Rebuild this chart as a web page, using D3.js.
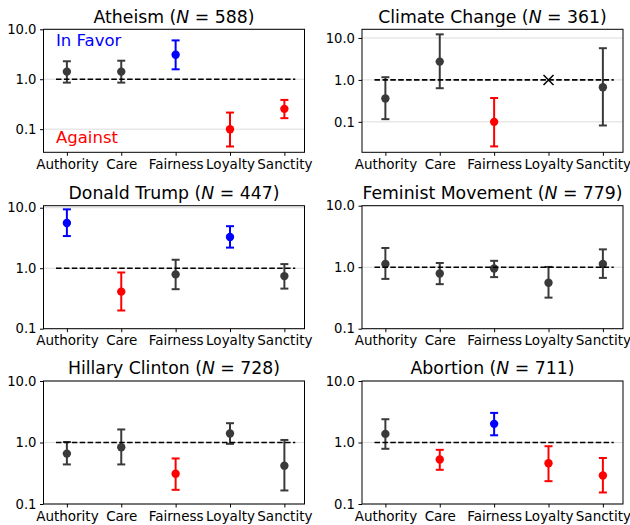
<!DOCTYPE html>
<html>
<head>
    <meta charset="utf-8">
    <script src="https://d3js.org/d3.v7.min.js"></script>
    <style>
        body { margin: 0; background: #fff; }
        text { font-family: "DejaVu Sans", sans-serif; }
    </style>
</head>
<body>
    <script>
        // foundations on the x axis
        var categories = ["Authority", "Care", "Fairness", "Loyalty", "Sanctity"];

        // one entry per panel
        var topics = ["Atheism", "Climate Change", "Donald Trump", "Feminist Movement", "Hillary Clinton", "Abortion"];
        var sampleSizes = [588, 361, 447, 779, 728, 711];

        // odds ratios with lower / upper interval ends (null = not estimable)
        var odds = [
            [1.42, 1.42, 3.1, 0.1, 0.255],
            [0.36, 2.73, 0.1, null, 0.67],
            [5.6, 0.41, 0.79, 3.29, 0.74],
            [1.13, 0.79, 0.95, 0.56, 1.13],
            [0.66, 0.84, 0.31, 1.4, 0.42],
            [1.38, 0.53, 2.01, 0.46, 0.29]
        ];
        var lowers = [
            [0.855, 0.855, 1.58, 0.045, 0.166],
            [0.116, 0.634, 0.026, null, 0.082],
            [3.4, 0.2, 0.45, 2.19, 0.46],
            [0.645, 0.53, 0.69, 0.32, 0.67],
            [0.44, 0.44, 0.17, 0.95, 0.166],
            [0.79, 0.36, 1.31, 0.235, 0.154]
        ];
        var uppers = [
            [2.29, 2.35, 6.0, 0.215, 0.385],
            [1.16, 12.2, 0.37, null, 5.7],
            [9.4, 0.85, 1.38, 4.95, 1.17],
            [2.05, 1.17, 1.27, 1.01, 1.95],
            [1.02, 1.63, 0.55, 2.06, 1.1],
            [2.39, 0.76, 3.03, 0.87, 0.56]
        ];
        // y axis limits of each panel
        var yLimits = [
            [0.0344, 10],
            [0.0188, 16.1],
            [0.1, 10.8],
            [0.1, 10],
            [0.1, 10],
            [0.1, 10]
        ];
        var yTicks = [0.1, 1, 10];

        var width = 630, height = 525;
        var colLeft = [43.5, 362];
        var rowTop = [29.3, 205.7, 381];
        var axW = 261, axH = 123;

        var svg = d3.select("body").append("svg")
            .attr("width", width)
            .attr("height", height);

        var x = d3.scaleLinear().domain([-0.43, 4.37]).range([0, axW]);

        topics.forEach(function(topic, i) {
            var g = svg.append("g")
                .attr("transform", "translate(" + colLeft[i % 2] + "," + rowTop[Math.floor(i / 2)] + ")");

            var y = d3.scaleLog().domain(yLimits[i]).range([axH, 0]);

            // grid
            g.selectAll(".grid")
                .data(yTicks)
                .enter().append("line")
                .attr("x1", 0).attr("x2", axW)
                .attr("y1", d => y(d)).attr("y2", d => y(d))
                .style("stroke", "#dcdcdc")
                .style("stroke-width", 1);

            // reference line at 1
            g.append("line")
                .attr("x1", x(-0.2)).attr("x2", x(4.2))
                .attr("y1", y(1)).attr("y2", y(1))
                .style("stroke", "#000")
                .style("stroke-width", 1.6)
                .style("stroke-dasharray", "5.5,2.4");

            var rows = categories.map(function(c, j) {
                var o = odds[i][j], lo = lowers[i][j], hi = uppers[i][j];
                var col = "#000", op = 0.77;
                if (o !== null && lo > 1) { col = "#0000ff"; op = 1; }
                if (o !== null && hi < 1) { col = "#ff0000"; op = 1; }
                return {j: j, o: o, lo: lo, hi: hi, col: col, op: op};
            });

            var est = rows.filter(d => d.o !== null);
            var bars = g.selectAll(".bar")
                .data(est)
                .enter().append("g")
                .style("opacity", d => d.op);

            bars.append("line")
                .attr("x1", d => x(d.j)).attr("x2", d => x(d.j))
                .attr("y1", d => y(d.lo)).attr("y2", d => y(d.hi))
                .style("stroke", d => d.col)
                .style("stroke-width", 2);
            bars.append("line")
                .attr("x1", d => x(d.j) - 4).attr("x2", d => x(d.j) + 4)
                .attr("y1", d => y(d.lo)).attr("y2", d => y(d.lo))
                .style("stroke", d => d.col)
                .style("stroke-width", 2);
            bars.append("line")
                .attr("x1", d => x(d.j) - 4).attr("x2", d => x(d.j) + 4)
                .attr("y1", d => y(d.hi)).attr("y2", d => y(d.hi))
                .style("stroke", d => d.col)
                .style("stroke-width", 2);
            bars.append("circle")
                .attr("cx", d => x(d.j))
                .attr("cy", d => y(d.o))
                .attr("r", 4.2)
                .style("fill", d => d.col);

            // not estimable -> cross at 1
            rows.filter(d => d.o === null).forEach(function(d) {
                var cx = x(d.j), cy = y(1), s = 5;
                g.append("path")
                    .attr("d", "M" + (cx - s) + "," + (cy - s) + "L" + (cx + s) + "," + (cy + s) +
                               "M" + (cx - s) + "," + (cy + s) + "L" + (cx + s) + "," + (cy - s))
                    .style("stroke", "#000")
                    .style("stroke-width", 1.5);
            });

            // frame
            g.append("rect")
                .attr("width", axW).attr("height", axH)
                .style("fill", "none")
                .style("stroke", "#000")
                .style("stroke-width", 1);

            // axes
            var yAxis = d3.axisLeft(y).tickValues(yTicks).tickFormat(d3.format(".1f")).tickSize(3.5).tickPadding(3.5);
            g.append("g").call(yAxis)
                .call(a => a.select(".domain").remove())
                .selectAll("text").style("font-size", "13.2px").style("fill", "#000")
                .style("font-family", "DejaVu Sans");

            var xAxis = d3.axisBottom(x).tickValues(d3.range(categories.length))
                .tickFormat(d => categories[d]).tickSize(3.5).tickPadding(3.5);
            g.append("g").attr("transform", "translate(0," + axH + ")").call(xAxis)
                .call(a => a.select(".domain").remove())
                .selectAll("text").style("font-size", "13.5px").style("fill", "#000")
                .style("font-family", "DejaVu Sans");

            // title
            var t = g.append("text")
                .attr("x", axW / 2)
                .attr("y", -6.6)
                .attr("text-anchor", "middle")
                .style("font-size", "17.3px");
            t.append("tspan").text(topic + " (");
            t.append("tspan").style("font-style", "italic").text("N");
            t.append("tspan").text(" = " + sampleSizes[i] + ")");

            if (i === 0) {
                g.append("text")
                    .attr("x", x(-0.2)).attr("y", y(4.6))
                    .style("font-size", "16.5px").style("fill", "#0000ff")
                    .text("In Favor");
                g.append("text")
                    .attr("x", x(-0.2)).attr("y", y(0.054))
                    .style("font-size", "16.5px").style("fill", "#ff0000")
                    .text("Against");
            }
        });
    </script>
</body>
</html>
